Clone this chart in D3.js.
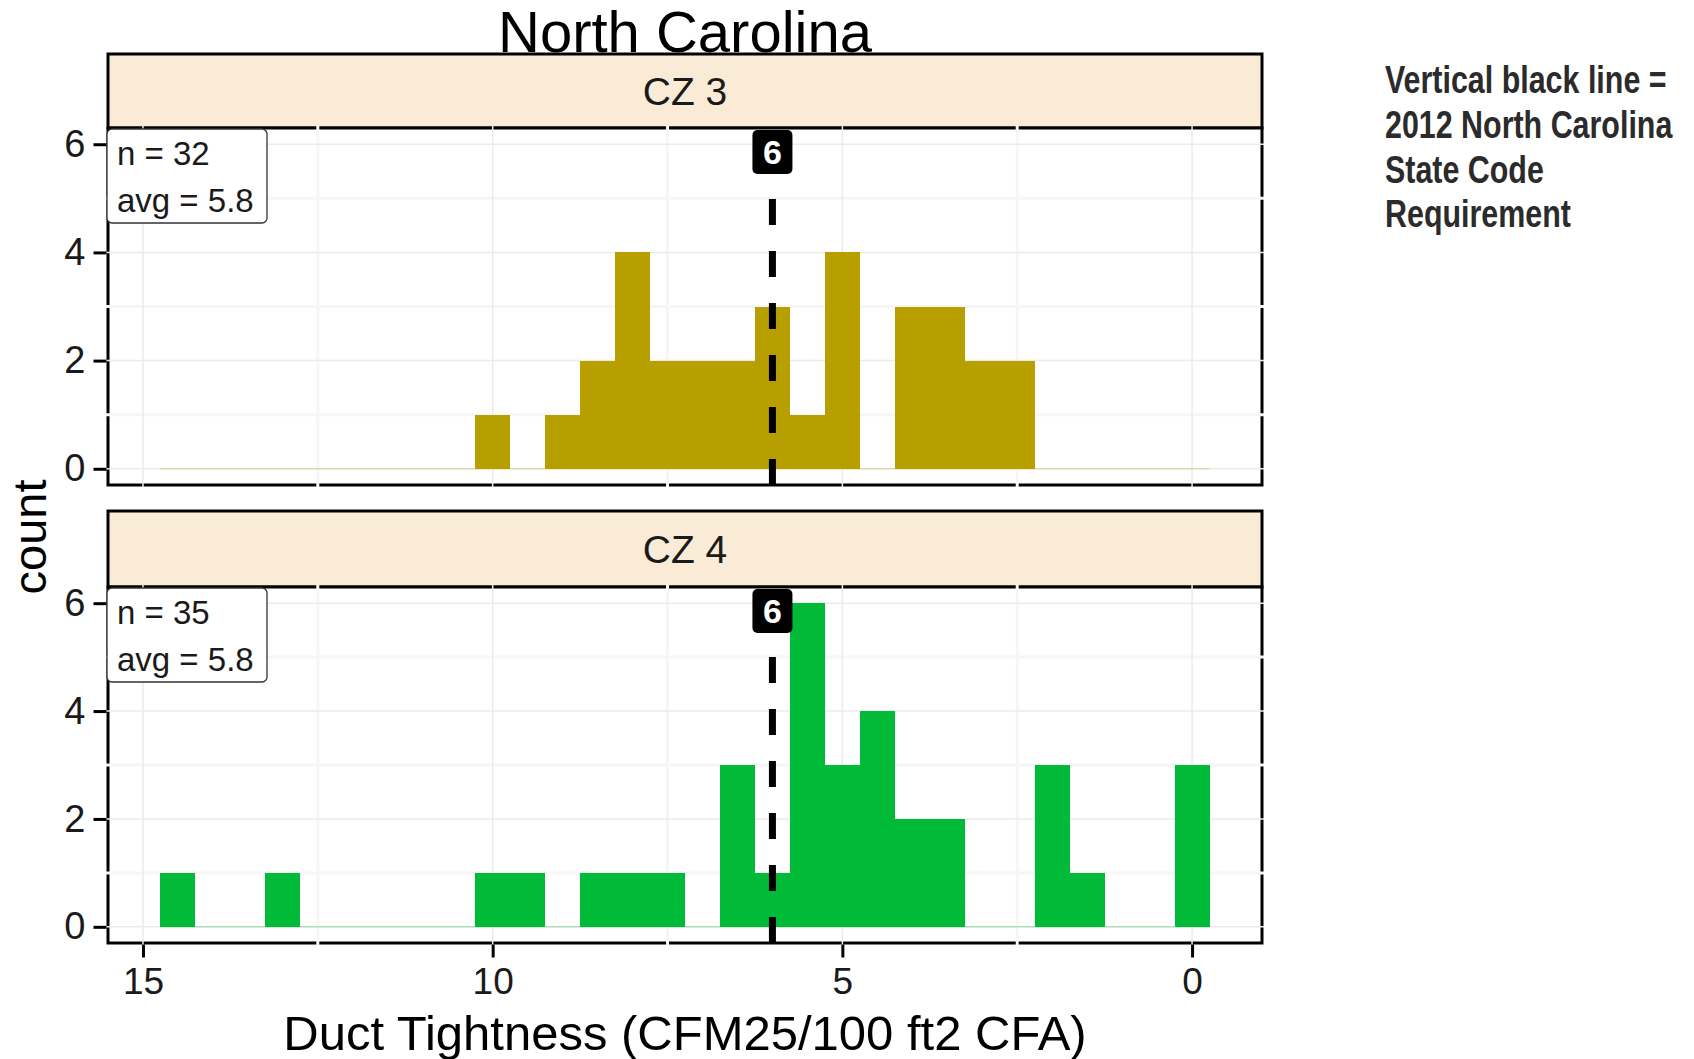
<!DOCTYPE html>
<html>
<head>
<meta charset="utf-8">
<script src="https://cdn.jsdelivr.net/npm/d3@7"></script>
<style>
  body { margin: 0; background: #ffffff; }
  svg { display: block; font-family: "Liberation Sans", Arial, sans-serif; }
</style>
</head>
<body>
<svg id="chart" width="1694" height="1059"></svg>
<script>
// Histogram bins (bin centres, width 0.5) of duct tightness, CFM25/100 ft2 CFA
const binCenters = [14.5, 14.0, 13.5, 13.0, 12.5, 12.0, 11.5, 11.0, 10.5, 10.0,
                    9.5, 9.0, 8.5, 8.0, 7.5, 7.0, 6.5, 6.0, 5.5, 5.0,
                    4.5, 4.0, 3.5, 3.0, 2.5, 2.0, 1.5, 1.0, 0.5, 0.0];
const binWidth = 0.5;

// Counts per bin for each climate zone
const countsCZ3 = [0, 0, 0, 0, 0, 0, 0, 0, 0, 1,
                   0, 1, 2, 4, 2, 2, 2, 3, 1, 4,
                   0, 3, 3, 2, 2, 0, 0, 0, 0, 0];
const countsCZ4 = [1, 0, 0, 1, 0, 0, 0, 0, 0, 1,
                   1, 0, 1, 1, 1, 0, 3, 1, 6, 3,
                   4, 2, 2, 0, 0, 3, 1, 0, 0, 3];

const facetNames = ["CZ 3", "CZ 4"];
const facetColors = ["#B79F00", "#00BA38"];
const sampleSizes = [32, 35];
const averages = [5.8, 5.8];
const codeRequirement = 6;

const xTicks = [15, 10, 5, 0];
const xMinorTicks = [12.5, 7.5, 2.5];
const yTicks = [0, 2, 4, 6];
const yMinorTicks = [1, 3, 5];

const chartTitle = "North Carolina";
const xTitle = "Duct Tightness (CFM25/100 ft2 CFA)";
const yTitle = "count";
const noteLines = ["Vertical black line =", "2012 North Carolina", "State Code", "Requirement"];

// ---- layout ----
const FONT = "Liberation Sans, Arial, sans-serif";
const svg = d3.select("#chart");
const panelLeft = 108, panelRight = 1262;
const layout = [
  { stripTop: 54,  panelTop: 128, panelBottom: 485 },
  { stripTop: 511, panelTop: 587, panelBottom: 943 }
];

// reversed x axis, shared by both facets
const x = d3.scaleLinear().domain([15.5, -1.0]).range([panelLeft, panelRight]);

const facets = [countsCZ3, countsCZ4].map((counts, i) => ({
  name: facetNames[i],
  color: facetColors[i],
  n: sampleSizes[i],
  avg: averages[i],
  bins: binCenters.map((c, j) => ({ center: c, count: counts[j] })),
  ...layout[i]
}));

facets.forEach((f, i) => {
  const y = d3.scaleLinear().domain([-0.3, 6.3]).range([f.panelBottom, f.panelTop]);
  const g = svg.append("g");

  // strip
  g.append("rect")
    .attr("x", panelLeft).attr("y", f.stripTop)
    .attr("width", panelRight - panelLeft).attr("height", f.panelTop - f.stripTop)
    .attr("fill", "#FAEBD7").attr("stroke", "#000").attr("stroke-width", 3);
  g.append("text")
    .attr("x", (panelLeft + panelRight) / 2).attr("y", (f.stripTop + f.panelTop) / 2)
    .attr("dy", "0.36em").attr("text-anchor", "middle")
    .attr("font-size", 39).attr("fill", "#1a1a1a")
    .text(f.name);

  // panel background and border
  g.append("rect")
    .attr("x", panelLeft).attr("y", f.panelTop)
    .attr("width", panelRight - panelLeft).attr("height", f.panelBottom - f.panelTop)
    .attr("fill", "#fff").attr("stroke", "#000").attr("stroke-width", 3);

  // grid lines (run slightly across the border)
  const ext = 2;
  g.selectAll(".xminor").data(xMinorTicks).join("line")
    .attr("x1", d => x(d)).attr("x2", d => x(d))
    .attr("y1", f.panelTop - ext).attr("y2", f.panelBottom + ext)
    .attr("stroke", "#F6F6F6").attr("stroke-width", 3);
  g.selectAll(".yminor").data(yMinorTicks).join("line")
    .attr("y1", d => y(d)).attr("y2", d => y(d))
    .attr("x1", panelLeft - ext).attr("x2", panelRight + ext)
    .attr("stroke", "#F6F6F6").attr("stroke-width", 3);
  g.selectAll(".xmajor").data(xTicks).join("line")
    .attr("x1", d => x(d)).attr("x2", d => x(d))
    .attr("y1", f.panelTop - ext).attr("y2", f.panelBottom + ext)
    .attr("stroke", "#EBEBEB").attr("stroke-width", 1.5);
  g.selectAll(".ymajor").data(yTicks).join("line")
    .attr("y1", d => y(d)).attr("y2", d => y(d))
    .attr("x1", panelLeft - ext).attr("x2", panelRight + ext)
    .attr("stroke", "#EBEBEB").attr("stroke-width", 1.5);

  // faint trace of the empty bins along zero
  g.append("line")
    .attr("x1", x(d3.max(binCenters) + binWidth / 2))
    .attr("x2", x(d3.min(binCenters) - binWidth / 2))
    .attr("y1", y(0)).attr("y2", y(0))
    .attr("stroke", f.color).attr("stroke-opacity", 0.25).attr("stroke-width", 1.5);

  // histogram bars
  g.selectAll(".bar").data(f.bins.filter(b => b.count > 0)).join("rect")
    .attr("x", b => x(b.center + binWidth / 2))
    .attr("width", b => x(b.center - binWidth / 2) - x(b.center + binWidth / 2))
    .attr("y", b => y(b.count))
    .attr("height", b => y(0) - y(b.count))
    .attr("fill", f.color)
    .attr("shape-rendering", "crispEdges");

  // code requirement line, dashes laid out from the bottom up
  g.append("line")
    .attr("x1", x(codeRequirement)).attr("x2", x(codeRequirement))
    .attr("y1", f.panelBottom).attr("y2", f.panelTop)
    .attr("stroke", "#000").attr("stroke-width", 7)
    .attr("stroke-dasharray", "26 26");

  // value label on the line
  const lw = 40, lh = 44;
  g.append("rect")
    .attr("x", x(codeRequirement) - lw / 2).attr("y", f.panelTop + 2)
    .attr("width", lw).attr("height", lh).attr("rx", 5)
    .attr("fill", "#000");
  g.append("text")
    .attr("x", x(codeRequirement)).attr("y", f.panelTop + 2 + lh / 2)
    .attr("dy", "0.36em").attr("text-anchor", "middle")
    .attr("font-size", 34).attr("font-weight", "bold").attr("fill", "#fff")
    .text(codeRequirement);

  // sample summary box
  const bx = panelLeft - 1, by = f.panelTop + 1;
  g.append("rect")
    .attr("x", bx).attr("y", by).attr("width", 160).attr("height", 94).attr("rx", 5)
    .attr("fill", "#fff").attr("stroke", "#333").attr("stroke-width", 1.3);
  g.append("text").attr("x", bx + 10).attr("y", by + 36)
    .attr("font-size", 33).attr("fill", "#1a1a1a").text(`n = ${f.n}`);
  g.append("text").attr("x", bx + 10).attr("y", by + 83)
    .attr("font-size", 33).attr("fill", "#1a1a1a").text(`avg = ${f.avg.toFixed(1)}`);

  // y axis
  const yAxis = d3.axisLeft(y).tickValues(yTicks).tickSize(13).tickPadding(8)
    .tickFormat(d3.format("d"));
  const ya = g.append("g").attr("transform", `translate(${panelLeft - 1.5},0)`).call(yAxis)
    .attr("font-family", FONT);
  ya.select(".domain").remove();
  ya.selectAll(".tick line").attr("stroke", "#000").attr("stroke-width", 3);
  ya.selectAll(".tick text").attr("font-size", 38).attr("fill", "#1a1a1a");

  // x axis only under the bottom facet
  if (i === facets.length - 1) {
    const xAxis = d3.axisBottom(x).tickValues(xTicks).tickSize(13).tickPadding(10)
      .tickFormat(d3.format("d"));
    const xa = g.append("g").attr("transform", `translate(0,${f.panelBottom + 1.5})`).call(xAxis)
      .attr("font-family", FONT);
    xa.select(".domain").remove();
    xa.selectAll(".tick line").attr("stroke", "#000").attr("stroke-width", 3);
    xa.selectAll(".tick text").attr("font-size", 37).attr("fill", "#1a1a1a");
  }
});

// titles
svg.append("text")
  .attr("x", (panelLeft + panelRight) / 2).attr("y", 52)
  .attr("text-anchor", "middle").attr("font-size", 58).attr("fill", "#000")
  .text(chartTitle);

svg.append("text")
  .attr("x", (panelLeft + panelRight) / 2).attr("y", 1050)
  .attr("text-anchor", "middle").attr("font-size", 49).attr("fill", "#000")
  .text(xTitle);

svg.append("text")
  .attr("transform", "translate(46,537) rotate(-90)")
  .attr("text-anchor", "middle").attr("font-size", 47).attr("fill", "#000")
  .text(yTitle);

// side note, condensed bold
const note = svg.append("g").attr("transform", "translate(1385,0) scale(0.78,1)");
note.selectAll("text").data(noteLines).join("text")
  .attr("x", 0).attr("y", (d, k) => 93 + k * 44.8)
  .attr("font-size", 39).attr("font-weight", "bold").attr("fill", "#2b2b2b")
  .text(d => d);
</script>
</body>
</html>
